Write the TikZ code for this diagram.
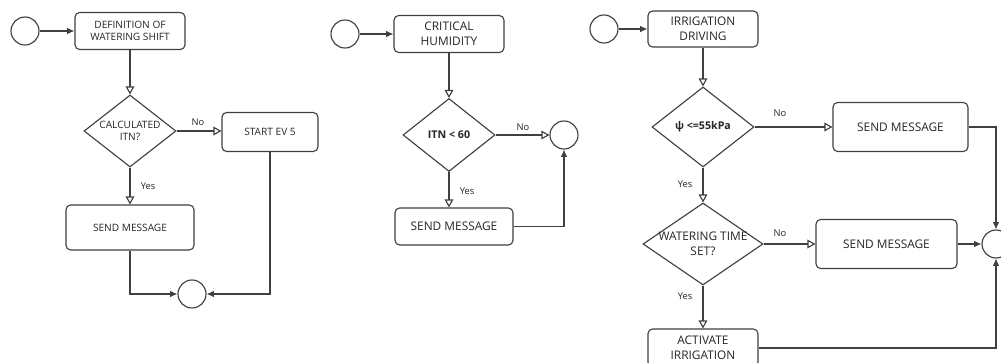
\documentclass[tikz,border=0pt]{standalone}
\usepackage{fontspec}
\setmainfont{Open Sans}
\usetikzlibrary{shapes.geometric,arrows.meta}
\def\pxu{0.75pt}
\definecolor{edge}{HTML}{404040}
\definecolor{txt}{HTML}{262626}
\tikzset{
  every node/.style={text=txt},
  stepbox/.style={draw=edge, line width=0.85pt, rounded corners=3.5pt, align=center, inner sep=0pt},
  decision/.style={draw=edge, line width=0.85pt, shape=diamond, inner sep=0pt},
  terminal/.style={draw=edge, line width=0.85pt, circle, inner sep=0pt, minimum size=28*\pxu},
  flow/.style={draw=edge, line width=0.85pt, -{Triangle[open,length=6pt,width=6.5pt]}},
  mergeline/.style={draw=edge, line width=0.85pt, -{Latex[length=5.5pt,width=5pt]}},
  small/.style={font=\fontsize{7.6}{9.5}\selectfont},
  big/.style={font=\fontsize{8.9}{11.5}\selectfont},
  strong/.style={font=\fontsize{8}{10}\selectfont\bfseries},
  tag/.style={font=\fontsize{7}{8}\selectfont},
}
\begin{document}
\begin{tikzpicture}[x=\pxu, y=-\pxu]
\clip (0,0) rectangle (1001,363);
\fill[white] (0,0) rectangle (1001,363);

% ---------- watering shift ----------
\node[terminal] (s1) at (25,31) {};
\node[stepbox, small, minimum width=110*\pxu, minimum height=37*\pxu] (p1) at (130,31) {DEFINITION OF\\WATERING SHIFT};
\node[decision, minimum width=92*\pxu, minimum height=72*\pxu,
      label={[small, align=center]center:CALCULATED\\ITN?}] (q1) at (130,131) {};
\node[stepbox, small, minimum width=96*\pxu, minimum height=39*\pxu] (ev) at (270,132) {START EV 5};
\node[stepbox, small, minimum width=128*\pxu, minimum height=45*\pxu] (m1) at (130,227.5) {SEND MESSAGE};
\node[terminal] (e1) at (192,294) {};

\draw[mergeline] (s1) -- (p1);
\draw[flow] (p1) -- (q1);
\draw[flow] (q1.east) -- (q1.east -| ev.west);
\draw[flow] (q1) -- (m1);
\draw[mergeline] (m1.south) |- (e1.west);
\draw[mergeline] (ev.south) |- (e1.east);
\node[tag] (n1) at (198,122) {No};
\node[tag] (y1) at (148,186) {Yes};

% ---------- critical humidity ----------
\node[terminal] (s2) at (345,34) {};
\node[stepbox, big, minimum width=110*\pxu, minimum height=37*\pxu] (p2) at (449,34) {CRITICAL\\HUMIDITY};
\node[decision, minimum width=92*\pxu, minimum height=73*\pxu,
      label={[strong]center:ITN < 60}] (q2) at (449,135) {};
\node[terminal] (e2) at (564,135) {};
\node[stepbox, big, minimum width=118*\pxu, minimum height=37*\pxu] (m2) at (454,226.5) {SEND MESSAGE};

\draw[mergeline] (s2) -- (p2);
\draw[flow] (p2) -- (q2);
\draw[flow] (q2.east) -- (e2.west);
\draw[flow] (q2.south) -- (q2.south |- m2.north);
\draw[mergeline] (m2.east) -| (e2.south);
\node[tag] (n2) at (523,127) {No};
\node[tag] (y2) at (467,191) {Yes};

% ---------- irrigation driving ----------
\node[terminal] (s3) at (604,29) {};
\node[stepbox, big, minimum width=110*\pxu, minimum height=36*\pxu] (p3) at (703,29) {IRRIGATION\\DRIVING};
\node[decision, minimum width=102*\pxu, minimum height=80*\pxu,
      label={[strong]center:ψ <=55kPa}] (q3) at (703,127) {};
\node[stepbox, big, minimum width=135*\pxu, minimum height=49*\pxu] (m3) at (900.5,127) {SEND MESSAGE};
\node[decision, minimum width=120*\pxu, minimum height=82*\pxu,
      label={[big, align=center]center:WATERING TIME\\SET?}] (q4) at (703,244) {};
\node[stepbox, big, minimum width=141*\pxu, minimum height=49*\pxu] (m4) at (886.5,244) {SEND MESSAGE};
\node[stepbox, big, minimum width=110*\pxu, minimum height=38*\pxu] (act) at (703,348) {ACTIVATE\\IRRIGATION};
\node[terminal] (e3) at (996,244) {};

\draw[mergeline] (s3) -- (p3);
\draw[flow] (p3) -- (q3);
\draw[flow] (q3.east) -- (m3.west);
\draw[flow] (q3) -- (q4);
\draw[flow] (q4.east) -- (m4.west);
\draw[flow] (q4) -- (act);
\draw[mergeline] (m3.east) -| (e3.north);
\draw[mergeline] (m4.east) -- (e3.west);
\draw[mergeline] (act.east) -| (e3.south);
\node[tag] (n3) at (780,113) {No};
\node[tag] (y3) at (685,184) {Yes};
\node[tag] (n4) at (780,233) {No};
\node[tag] (y4) at (685,296) {Yes};
\end{tikzpicture}
\end{document}
